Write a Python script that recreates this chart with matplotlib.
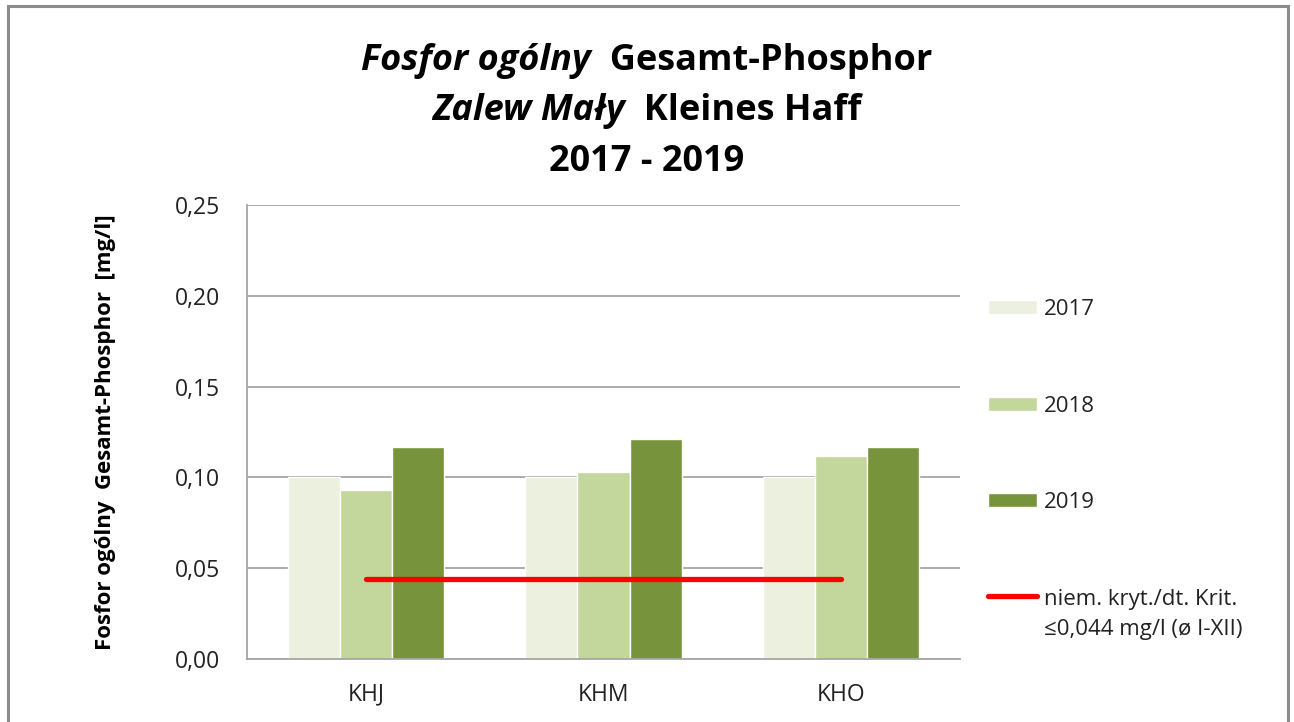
import matplotlib
matplotlib.use("Agg")
import matplotlib.pyplot as plt
import numpy as np
from matplotlib.patches import Rectangle
from matplotlib.legend_handler import HandlerLine2D

# ============================================================
# 1. DATA
# ============================================================

stations = ["KHJ", "KHM", "KHO"]
years = ["2017", "2018", "2019"]
val_2017 = [0.100, 0.100, 0.100]
val_2018 = [0.093, 0.103, 0.112]
val_2019 = [0.117, 0.121, 0.117]
criterion = [0.044, 0.044, 0.044]
criterion_label = "niem. kryt./dt. Krit.\n≤0,044 mg/l (ø I-XII)"

y_ticks = [0.00, 0.05, 0.10, 0.15, 0.20, 0.25]
y_tick_labels = ["0,00", "0,05", "0,10", "0,15", "0,20", "0,25"]

colors = ["#EBF1DE", "#C3D69B", "#77933C"]


# legend line handle sits next to the first text line (like Excel)
class TopLineHandler(HandlerLine2D):
    def create_artists(self, legend, orig_handle, xdescent, ydescent,
                       width, height, fontsize, trans):
        arts = super().create_artists(legend, orig_handle, xdescent, ydescent,
                                      width, height, fontsize, trans)
        for a in arts:
            a.set_ydata(np.asarray(a.get_ydata()) + 0.85 * fontsize)
        return arts


# ============================================================
# 2. FIGURE
# ============================================================

plt.rcParams['font.family'] = ['Open Sans', 'DejaVu Sans']

fig = plt.figure(figsize=(12.94, 7.22), dpi=100)
ax = fig.add_axes([247 / 1294, 1 - 659 / 722, (960 - 247) / 1294, (659 - 205) / 722])

x = np.arange(len(stations))
w = 0.219
series = [val_2017, val_2018, val_2019]
handles = []
for i in range(3):
    b = ax.bar(x + (i - 1) * w, series[i], width=w, color=colors[i],
               edgecolor="white", linewidth=1, label=years[i], zorder=2)
    handles.append(b)

line, = ax.plot(x, criterion, color="#FF0000", linewidth=3.8, solid_capstyle="round",
                label=criterion_label, zorder=3)
handles.append(line)

ax.set_xlim(-0.5, 2.5)
ax.set_ylim(0, 0.25)
ax.set_yticks(y_ticks)
ax.set_yticklabels(y_tick_labels)
ax.set_xticks(x)
ax.set_xticklabels(stations)
ax.tick_params(axis="y", length=0, pad=19.5, labelsize=16.5, labelcolor="#222222")
ax.tick_params(axis="x", length=0, pad=17, labelsize=16.5, labelcolor="#222222")

ax.grid(axis="y", color="#A6A6A6", linewidth=1.3, zorder=0)
ax.set_axisbelow(True)
for s in ["top", "right"]:
    ax.spines[s].set_visible(False)
for s in ["left", "bottom"]:
    ax.spines[s].set_color("#A6A6A6")
    ax.spines[s].set_linewidth(1.3)

ax.set_ylabel("Fosfor ogólny  Gesamt-Phosphor  [mg/l]", fontsize=16,
              fontweight="bold", labelpad=0)
ax.yaxis.set_label_coords(-(247 - 116) / 713, 0.5)

# ============================================================
# 3. TITLE (italic + normal parts, centred)
# ============================================================

title_lines = [("Fosfor ogólny", "  Gesamt-Phosphor", 70),
               ("Zalew Mały", "  Kleines Haff", 120),
               ("", "2017 - 2019", 171)]
fig.canvas.draw()
renderer = fig.canvas.get_renderer()
for ital, norm, ypix in title_lines:
    yb = 1 - ypix / 722
    t1 = fig.text(0, yb, ital, fontsize=26, fontweight="bold", style="italic",
                  va="baseline", ha="left")
    t2 = fig.text(0, yb, norm, fontsize=26, fontweight="bold",
                  va="baseline", ha="left")
    w1 = t1.get_window_extent(renderer).width if ital else 0
    w2 = t2.get_window_extent(renderer).width
    start = (1294 - (w1 + w2)) / 2
    t1.set_x(start / 1294)
    t2.set_x((start + w1) / 1294)

# ============================================================
# 4. LEGEND + BORDER
# ============================================================

leg = ax.legend(handles=handles, loc="upper left",
                bbox_to_anchor=(988 / 1294, 1 - 299 / 722),
                bbox_transform=fig.transFigure, frameon=False, fontsize=16,
                borderpad=0, borderaxespad=0, handlelength=2.2, handleheight=0.6,
                handletextpad=0.3, labelspacing=3.4, labelcolor="#222222",
                handler_map={line: TopLineHandler()})
leg.get_texts()[3].set_linespacing(1.6)

fig.patches.append(Rectangle((8 / 1294, -0.02), (1288 - 8) / 1294, 1.02 - 6 / 722,
                             transform=fig.transFigure, fill=False,
                             edgecolor="#8C8C8C", linewidth=2.2))

fig.savefig("out.png", dpi=100)
